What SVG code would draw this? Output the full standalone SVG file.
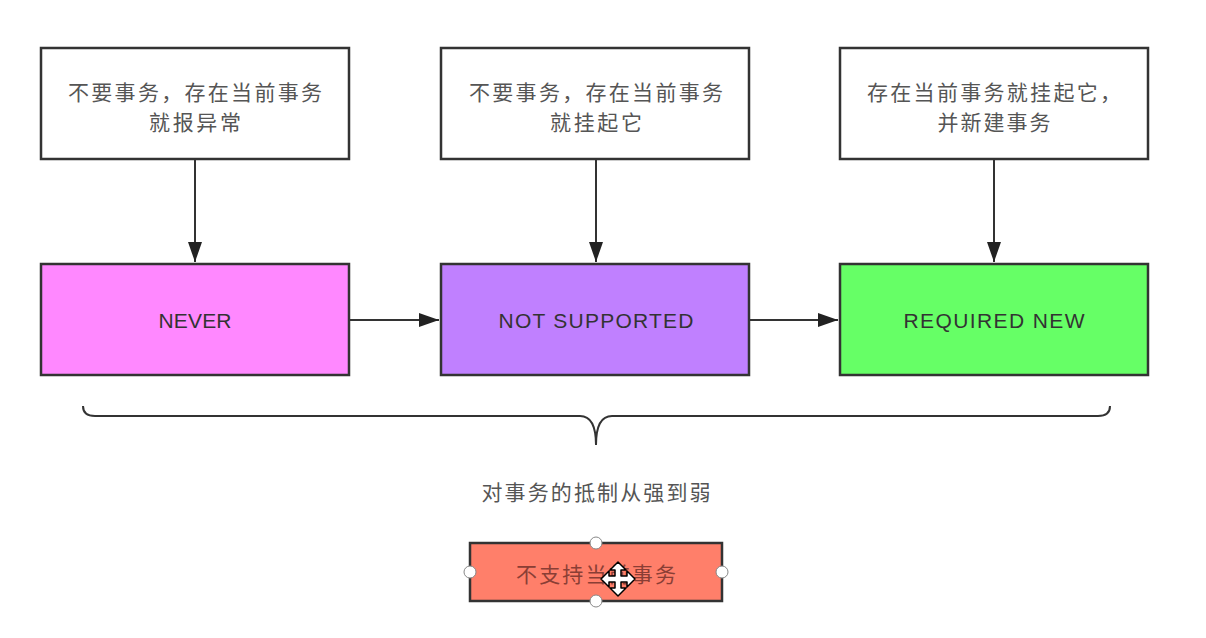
<svg xmlns="http://www.w3.org/2000/svg" width="1206" height="638" viewBox="0 0 1206 638">
<defs>
<style>
.box{stroke:#333;stroke-width:2.5}
.cn{font-family:"Noto Sans CJK SC","Noto Sans",sans-serif;font-size:21px;fill:#555;text-anchor:middle}
.en{font-family:"Liberation Sans","Noto Sans",sans-serif;font-size:21px;fill:#333;text-anchor:middle}
.ln{stroke:#333;stroke-width:2;fill:none}
.hd{fill:#fff;stroke:#888;stroke-width:1}
</style>
<marker id="ah" viewBox="0 0 20 14" refX="20" refY="7" markerWidth="20" markerHeight="14" markerUnits="userSpaceOnUse" orient="auto">
<path d="M0,0 L20,7 L0,14 z" fill="#222"/>
</marker>
</defs>
<rect width="1206" height="638" fill="#fff"/>

<g id="desc-never">
<rect class="box" x="41" y="48" width="308" height="111" fill="#fff"/>
<text class="cn" x="195" y="100" textLength="254" lengthAdjust="spacing">不要事务，存在当前事务</text>
<text class="cn" x="195" y="130" textLength="92" lengthAdjust="spacing">就报异常</text>
</g>
<g id="desc-not-supported">
<rect class="box" x="441" y="48" width="308" height="111" fill="#fff"/>
<text class="cn" x="596" y="100" textLength="254" lengthAdjust="spacing">不要事务，存在当前事务</text>
<text class="cn" x="596" y="130" textLength="92" lengthAdjust="spacing">就挂起它</text>
</g>
<g id="desc-required-new">
<rect class="box" x="840" y="48" width="308" height="111" fill="#fff"/>
<text class="cn" x="994" y="100" textLength="254" lengthAdjust="spacing">存在当前事务就挂起它，</text>
<text class="cn" x="994" y="130" textLength="113" lengthAdjust="spacing">并新建事务</text>
</g>

<g id="never">
<rect class="box" x="41" y="264" width="308" height="111" fill="#ff88ff"/>
<text class="en" x="195" y="328" textLength="73" lengthAdjust="spacing">NEVER</text>
</g>
<g id="not-supported">
<rect class="box" x="441" y="264" width="308" height="111" fill="#c080ff"/>
<text class="en" x="596" y="328" textLength="195" lengthAdjust="spacing">NOT SUPPORTED</text>
</g>
<g id="required-new">
<rect class="box" x="840" y="264" width="308" height="111" fill="#66ff66"/>
<text class="en" x="994" y="328" textLength="181" lengthAdjust="spacing">REQUIRED NEW</text>
</g>

<g id="connectors">
<line class="ln" x1="195" y1="160" x2="195" y2="262" marker-end="url(#ah)"/>
<line class="ln" x1="596" y1="160" x2="596" y2="262" marker-end="url(#ah)"/>
<line class="ln" x1="994" y1="160" x2="994" y2="262" marker-end="url(#ah)"/>
<line class="ln" x1="350" y1="320" x2="439" y2="320" marker-end="url(#ah)"/>
<line class="ln" x1="750" y1="320" x2="838" y2="320" marker-end="url(#ah)"/>
</g>

<g id="brace">
<path class="ln" stroke-width="2.5" d="M83,406 Q83,416 95,416 L580,416 Q596,416 596,445 Q596,416 612,416 L1098,416 Q1110,416 1110,406"/>
</g>

<g id="caption">
<text class="cn" x="596" y="500" textLength="229" lengthAdjust="spacing">对事务的抵制从强到弱</text>
</g>

<g id="selected-box">
<rect class="box" x="470" y="543" width="252" height="58" fill="#ff7f6a"/>
<text class="cn" x="596" y="582" textLength="160" lengthAdjust="spacing" style="fill:#8a3e35">不支持当前事务</text>
<circle class="hd" cx="596" cy="543" r="6"/>
<circle class="hd" cx="470" cy="572" r="6"/>
<circle class="hd" cx="722" cy="572" r="6"/>
<circle class="hd" cx="596" cy="601" r="6"/>
<path d="M618,562 L626,570 L621,570 L621,576 L627,576 L627,571 L635,579 L627,587 L627,582 L621,582 L621,588 L626,588 L618,596 L610,588 L615,588 L615,582 L609,582 L609,587 L601,579 L609,571 L609,576 L615,576 L615,570 L610,570 Z" fill="#fff" stroke="#000" stroke-width="1.5" stroke-linejoin="round"/>
</g>
</svg>
